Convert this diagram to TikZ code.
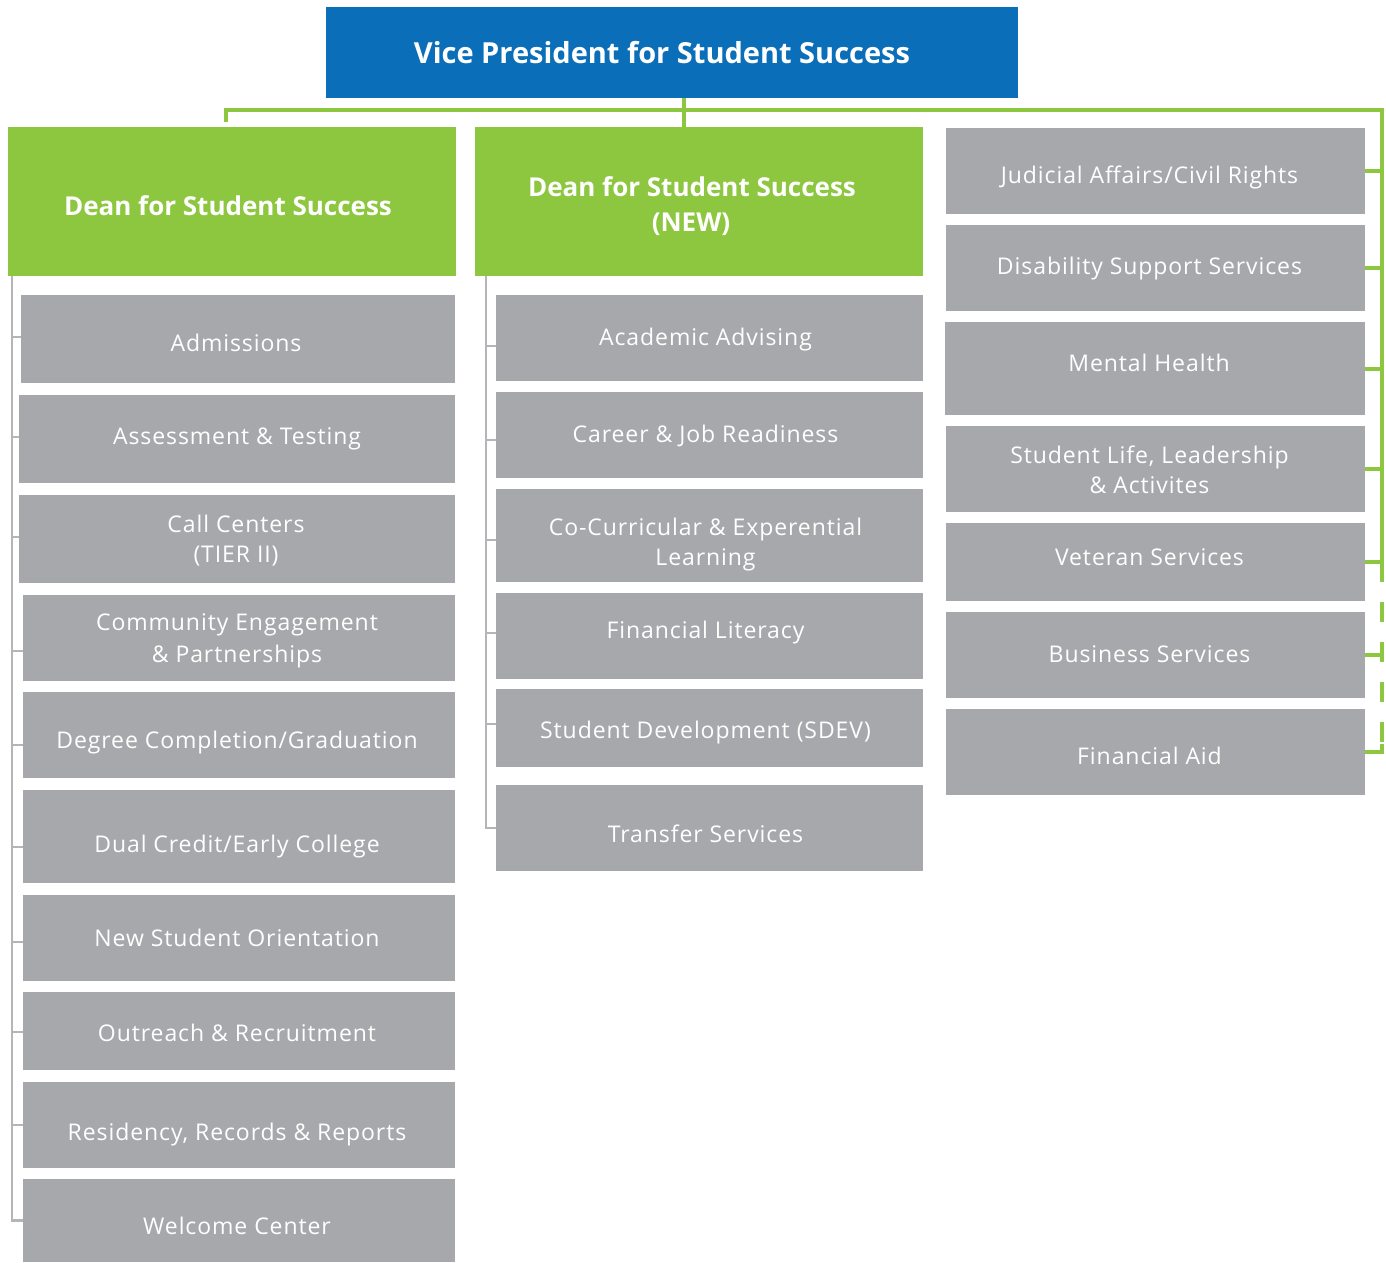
\documentclass[tikz,border=0pt]{standalone}
\usepackage{fontspec}
\setmainfont{Open Sans}
\usetikzlibrary{positioning}
\definecolor{vpblue}{HTML}{0A6EB8}
\definecolor{deangreen}{HTML}{8DC63F}
\definecolor{unitgray}{HTML}{A7A8AB}
\definecolor{treegray}{HTML}{B4B5B8}
% move a line of text left by #1 and down by #2, box size unchanged
\newcommand{\nudge}[3]{\raisebox{-#2}[\height][\depth]{\kern-#1\relax#3\kern#1\relax}}
\begin{document}
\begin{tikzpicture}
	[x=1pt, y=-1pt,
	every node/.style={inner sep=0pt, outer sep=0pt, text=white, align=center},
	boss/.style = {fill=vpblue, anchor=north west, font=\fontsize{29}{33}\selectfont\bfseries},
	dean/.style = {fill=deangreen, anchor=north west, minimum width=448pt, minimum height=149pt, font=\fontsize{26}{35}\selectfont\bfseries},
	unit/.style = {fill=unitgray, anchor=north west, font=\fontsize{23}{30}\selectfont\addfontfeature{LetterSpace=4}},
	tree/.style = {draw=treegray, line width=2.5pt},
	link/.style = {draw=deangreen, line width=4pt}
	]
	\useasboundingbox (0,0) rectangle (1386,1262);

	% top
	\node[boss, minimum width=692pt, minimum height=91pt] (vp) at (326,7) {\nudge{10pt}{0pt}{Vice President for Student Success}};
	\node[dean] (deanA) at (8,127) {\nudge{4pt}{4pt}{Dean for Student Success}};
	\node[dean] (deanB) at (475,127) {\nudge{7pt}{5pt}{Dean for Student Success}\\\nudge{8pt}{5pt}{(NEW)}};

	% left column
	\node[unit, minimum width=434pt, minimum height=88pt] (adm) at (21,295) {\nudge{2pt}{4pt}{Admissions}};
	\node[unit, minimum width=436pt, minimum height=88pt] (ast) at (19,395) {Assessment \& Testing};
	\node[unit, minimum width=436pt, minimum height=88pt] (call) at (19,495) {\nudge{1pt}{2pt}{Call Centers}\\\nudge{1pt}{2pt}{(TIER II)}};
	\node[unit, minimum width=432pt, minimum height=86pt] (comm) at (23,595) {\nudge{2pt}{2pt}{Community Engagement}\\\nudge{2pt}{4pt}{\& Partnerships}};
	\node[unit, minimum width=432pt, minimum height=86pt] (deg) at (23,692) {\nudge{2pt}{8pt}{Degree Completion/Graduation}};
	\node[unit, minimum width=432pt, minimum height=93pt] (dual) at (23,790) {\nudge{2pt}{10pt}{Dual Credit/Early College}};
	\node[unit, minimum width=432pt, minimum height=86pt] (nso) at (23,895) {\nudge{2pt}{0pt}{New Student Orientation}};
	\node[unit, minimum width=432pt, minimum height=78pt] (out) at (23,992) {\nudge{2pt}{2pt}{Outreach \& Recruitment}};
	\node[unit, minimum width=432pt, minimum height=86pt] (res) at (23,1082) {\nudge{2pt}{10pt}{Residency, Records \& Reports}};
	\node[unit, minimum width=432pt, minimum height=83pt] (wel) at (23,1179) {\nudge{2pt}{5pt}{Welcome Center}};

	% middle column
	\node[unit, minimum width=427pt, minimum height=86pt] (acad) at (496,295) {\nudge{4pt}{2pt}{Academic Advising}};
	\node[unit, minimum width=427pt, minimum height=86pt] (car) at (496,392) {\nudge{4pt}{1pt}{Career \& Job Readiness}};
	\node[unit, minimum width=427pt, minimum height=93pt] (cocu) at (496,489) {\nudge{4pt}{9pt}{Co-Curricular \& Experential}\\\nudge{4pt}{9pt}{Learning}};
	\node[unit, minimum width=427pt, minimum height=86pt] (fin) at (496,593) {\nudge{4pt}{-3pt}{Financial Literacy}};
	\node[unit, minimum width=427pt, minimum height=78pt] (sdev) at (496,689) {\nudge{4pt}{5pt}{Student Development (SDEV)}};
	\node[unit, minimum width=427pt, minimum height=86pt] (trans) at (496,785) {\nudge{4pt}{6pt}{Transfer Services}};

	% right column
	\node[unit, minimum width=419pt, minimum height=86pt] (jud) at (946,128) {\nudge{6pt}{6pt}{Judicial Affairs/Civil Rights}};
	\node[unit, minimum width=419pt, minimum height=86pt] (dis) at (946,225) {\nudge{6pt}{1pt}{Disability Support Services}};
	\node[unit, minimum width=420pt, minimum height=93pt] (mh) at (945,322) {\nudge{6pt}{-6pt}{Mental Health}};
	\node[unit, minimum width=419pt, minimum height=86pt] (life) at (946,426) {\nudge{6pt}{1pt}{Student Life, Leadership}\\\nudge{6pt}{1pt}{\& Activites}};
	\node[unit, minimum width=419pt, minimum height=78pt] (vet) at (946,523) {\nudge{6pt}{-5pt}{Veteran Services}};
	\node[unit, minimum width=419pt, minimum height=86pt] (bus) at (946,612) {\nudge{6pt}{-1pt}{Business Services}};
	\node[unit, minimum width=419pt, minimum height=86pt] (aid) at (946,709) {\nudge{6pt}{4pt}{Financial Aid}};

	% green links
	\coordinate (top) at (684,110);
	\coordinate (side) at (1382,110);
	\draw[link] (vp.south -| top) -- (deanB.north -| top);
	\draw[link] (deanA.north) ++(-6,-5) |- (side) -- (side |- vet.east);
	\foreach \u in {jud,dis,mh,life,vet}
		\draw[link] (\u.east) -- (\u.east -| side);
	\draw[link, dash pattern=on 20pt off 20pt] (side |- vet.east) -- (side |- aid.east);
	\draw[link] (bus.east) -- (bus.east -| side);
	\draw[link] (aid.east) -- (aid.east -| side) -- ++(0,-8);

	% gray trees
	\coordinate (spineA) at (12,276);
	\coordinate (spineB) at (486,276);
	\draw[tree] (spineA) |- (wel.west);
	\foreach \u/\y in {adm/337,ast/437,call/537,comm/651,deg/745,dual/847,nso/942,out/1032,res/1125}
		\draw[tree] (\u.west |- 0,\y) -- (spineA |- 0,\y);
	\draw[tree] (spineB) |- (trans.west);
	\foreach \u/\y in {acad/346,car/440,cocu/540,fin/633,sdev/724}
		\draw[tree] (\u.west |- 0,\y) -- (spineB |- 0,\y);
\end{tikzpicture}
\end{document}
